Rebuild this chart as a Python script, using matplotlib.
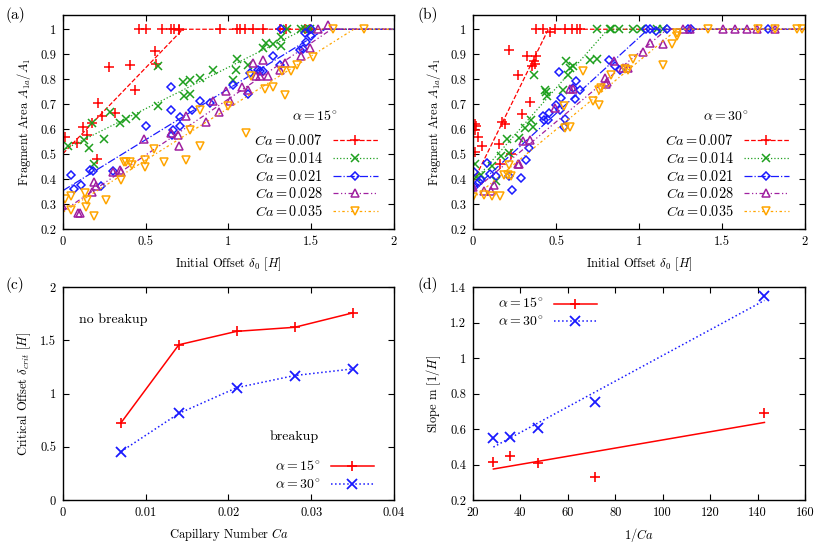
import matplotlib
matplotlib.use("Agg")
import matplotlib.pyplot as plt
from matplotlib.lines import Line2D
from matplotlib.ticker import FormatStrFormatter
import numpy as np

plt.rcParams["font.family"] = ["cmr10", "DejaVu Serif"]
plt.rcParams["mathtext.fontset"] = "cm"
plt.rcParams["axes.formatter.use_mathtext"] = True
plt.rcParams["font.size"] = 9

# capillary numbers and fit results
ca_values = [0.007, 0.014, 0.021, 0.028, 0.035]
inv_ca = [142.9, 71.4, 47.6, 35.7, 28.6]
# critical offsets (panel c)
crit_15 = [0.724, 1.458, 1.584, 1.622, 1.757]
crit_30 = [0.454, 0.813, 1.055, 1.169, 1.231]
# slopes (panel d), ordered like ca_values
slope_15 = [0.688, 0.332, 0.408, 0.449, 0.417]
slope_30 = [1.349, 0.754, 0.608, 0.555, 0.550]

# panel (a): alpha = 15 deg, fragment area vs initial offset
a15_x = {
    0.007: [0.014, 0.085, 0.121, 0.145, 0.177, 0.205, 0.209, 0.236, 0.278, 0.314, 0.407, 0.435,
            0.556, 0.564, 0.701, 0.46, 0.50, 0.60, 0.65, 0.67, 0.70, 0.95, 1.05, 1.07, 1.10,
            1.15, 1.21, 1.31, 1.35, 1.46, 1.49],
    0.014: [0.030, 0.125, 0.157, 0.177, 0.187, 0.246, 0.282, 0.346, 0.379, 0.439, 0.576, 0.574,
            0.725, 0.731, 0.765, 0.765, 0.826, 0.906, 1.027, 1.051, 1.047, 1.118, 1.208, 1.229,
            1.269, 1.319, 1.319, 1.353, 1.44, 1.46, 1.49],
    0.021: [0.046, 0.064, 0.107, 0.165, 0.181, 0.228, 0.302, 0.504, 0.655, 0.655, 0.659, 0.665,
            0.705, 0.705, 0.781, 0.826, 0.886, 1.027, 1.118, 1.128, 1.178, 1.188, 1.208, 1.269,
            1.309, 1.43, 1.45, 1.47, 1.50, 1.46, 1.32, 1.50],
    0.028: [-0.006, 0.09, 0.10, 0.185, 0.201, 0.177, 0.302, 0.342, 0.352, 0.487, 0.65, 0.695,
            0.70, 0.745, 0.866, 0.906, 0.94, 0.987, 1.007, 1.084, 1.118, 1.148, 1.168, 1.188,
            1.208, 1.239, 1.309, 1.339, 1.44, 1.49, 1.54, 1.60],
    0.035: [0.01, 0.05, 0.05, 0.131, 0.145, 0.137, 0.185, 0.262, 0.348, 0.368, 0.383, 0.403,
            0.417, 0.493, 0.497, 0.548, 0.608, 0.745, 0.765, 0.826, 0.826, 0.997, 1.104, 1.138,
            1.219, 1.269, 1.325, 1.339, 1.38, 1.416, 1.51, 1.63, 1.82],
}
a15_y = {
    0.007: [0.568, 0.544, 0.607, 0.577, 0.624, 0.48, 0.703, 0.652, 0.847, 0.665, 0.856, 0.757,
            0.911, 0.86, 0.995, 1, 1, 1, 1, 1, 1, 1, 1, 1, 1, 1, 1, 1, 1, 1, 1],
    0.014: [0.533, 0.557, 0.524, 0.624, 0.46, 0.56, 0.669, 0.624, 0.641, 0.651, 0.693, 0.851,
            0.787, 0.733, 0.795, 0.741, 0.803, 0.837, 0.795, 0.88, 0.837, 0.857, 0.924, 0.944,
            0.94, 0.968, 0.931, 1.0, 1.0, 1.0, 1.0],
    0.021: [0.415, 0.361, 0.377, 0.435, 0.431, 0.371, 0.433, 0.613, 0.767, 0.677, 0.577, 0.597,
            0.648, 0.613, 0.677, 0.713, 0.704, 0.777, 0.741, 0.824, 0.837, 0.831, 0.831, 0.891,
            0.857, 0.917, 0.92, 0.947, 0.973, 0.984, 1.0, 1.0],
    0.028: [0.297, 0.264, 0.264, 0.387, 0.371, 0.347, 0.427, 0.437, 0.427, 0.56, 0.584, 0.577,
            0.533, 0.651, 0.627, 0.711, 0.667, 0.751, 0.713, 0.768, 0.757, 0.864, 0.811, 0.811,
            0.877, 0.811, 0.837, 0.864, 0.891, 0.924, 1.0, 1.017],
    0.035: [0.321, 0.331, 0.277, 0.344, 0.317, 0.288, 0.251, 0.317, 0.397, 0.468, 0.468, 0.468,
            0.455, 0.477, 0.447, 0.521, 0.468, 0.475, 0.597, 0.533, 0.677, 0.693, 0.584, 0.813,
            0.76, 0.767, 0.831, 0.737, 0.831, 0.857, 0.888, 1.0, 1.0],
}

# panel (b): alpha = 30 deg
a30_x = {
    0.007: [0.01, 0.02, 0.014, 0.01, 0.03, 0.054, 0.157, 0.161, 0.173, 0.193, 0.217, 0.231,
            0.271, 0.295, 0.328, 0.346, 0.356, 0.368, 0.372, 0.382, 0.378, 0.422, 0.462, 0.492,
            0.553, 0.599, 0.629, 0.647],
    0.014: [0.01, 0.02, 0.05, 0.115, 0.137, 0.167, 0.205, 0.215, 0.275, 0.312, 0.352, 0.362,
            0.366, 0.432, 0.442, 0.448, 0.543, 0.559, 0.573, 0.587, 0.603, 0.704, 0.75, 0.744,
            0.824, 0.834, 0.88, 0.961, 1.011, 1.106, 1.146],
    0.021: [0.004, 0.004, 0.036, 0.05, 0.084, 0.105, 0.137, 0.235, 0.215, 0.291, 0.322, 0.336,
            0.422, 0.428, 0.452, 0.458, 0.497, 0.523, 0.529, 0.519, 0.549, 0.553, 0.603, 0.617,
            0.623, 0.643, 0.82, 0.854, 0.884, 1.045, 1.065, 1.101, 1.166, 1.296, 1.313, 1.779],
    0.028: [0.0, 0.064, 0.11, 0.125, 0.271, 0.275, 0.302, 0.346, 0.492, 0.587, 0.603, 0.794,
            0.804, 0.81, 0.848, 0.905, 0.935, 1.025, 1.069, 1.146, 1.266, 1.307, 1.508, 1.578,
            1.648, 1.713, 1.819],
    0.035: [0.0, 0.064, 0.117, 0.165, 0.185, 0.211, 0.227, 0.215, 0.547, 0.557, 0.587, 0.663,
            0.72, 0.758, 0.758, 0.774, 0.834, 0.915, 0.935, 0.965, 1.146, 1.196, 1.226, 1.226,
            1.417, 1.719, 1.819, 1.95, 1.98],
}
a30_y = {
    0.007: [0.621, 0.613, 0.597, 0.508, 0.567, 0.531, 0.541, 0.46, 0.627, 0.62, 0.915, 0.5,
            0.817, 0.661, 0.891, 0.708, 0.851, 0.871, 0.86, 0.893, 1.0, 1.0, 0.987, 1.0,
            1.0, 1.0, 1.0, 1.0],
    0.014: [0.46, 0.41, 0.415, 0.451, 0.391, 0.491, 0.56, 0.504, 0.564, 0.604, 0.637, 0.607,
            0.817, 0.755, 0.747, 0.733, 0.755, 0.871, 0.817, 0.844, 0.851, 0.877, 0.881, 1.0,
            1.0, 1.0, 1.0, 1.0, 1.0, 1.0, 1.0],
    0.021: [0.427, 0.368, 0.387, 0.397, 0.464, 0.421, 0.413, 0.357, 0.413, 0.404, 0.477, 0.524,
            0.653, 0.637, 0.637, 0.664, 0.697, 0.677, 0.724, 0.827, 0.607, 0.64, 0.764, 0.72,
            0.793, 0.755, 0.875, 0.851, 0.835, 1.0, 1.0, 0.991, 1.0, 1.0, 1.0, 1.0],
    0.028: [0.368, 0.351, 0.351, 0.377, 0.461, 0.461, 0.553, 0.555, 0.684, 0.761, 0.76, 0.804,
            0.78, 0.79, 0.873, 0.844, 0.844, 0.907, 0.944, 0.94, 1.0, 1.0, 1.0, 1.0,
            1.0, 1.0, 1.0],
    0.035: [0.328, 0.337, 0.333, 0.331, 0.417, 0.417, 0.411, 0.457, 0.691, 0.604, 0.607, 0.831,
            0.711, 0.697, 0.757, 0.764, 0.817, 0.84, 0.835, 0.88, 0.857, 0.94, 0.973, 0.984,
            1.0, 1.0, 1.0, 1.0, 1.0],
}

colors = ["#ff0000", "#1ea01e", "#1a1aff", "#a020a0", "#ffa500"]
markers = ["+", "x", "D", "^", "v"]
msizes = [6.5, 5.5, 4.2, 5.6, 5.6]
dashes = ["--", ":", "-.", (0, (4, 2, 1, 2, 1, 2)), (0, (2, 2, 1, 2))]

fig = plt.figure(figsize=(8.31, 5.46), dpi=100)
ax_a = fig.add_axes([0.0758, 0.5806, 0.3983, 0.3919])
ax_b = fig.add_axes([0.5692, 0.5806, 0.3995, 0.3919])
ax_c = fig.add_axes([0.0758, 0.0842, 0.3983, 0.3901])
ax_d = fig.add_axes([0.5692, 0.0842, 0.3995, 0.3901])


def style(ax):
    ax.tick_params(direction="in", top=True, right=True, length=4, width=0.8, pad=5)
    for sp in ax.spines.values():
        sp.set_linewidth(1.0)
    ax.xaxis.set_major_formatter(FormatStrFormatter("%g"))
    ax.yaxis.set_major_formatter(FormatStrFormatter("%g"))


def mk_handle(i):
    filled = markers[i] in ("+", "x")
    return Line2D([], [], color=colors[i], linestyle=dashes[i], linewidth=0.9,
                  marker=markers[i], markersize=msizes[i], markeredgewidth=1.1,
                  markerfacecolor=colors[i] if filled else "none")


def offset_panel(ax, xs, ys, slopes, crits, angle):
    for i, ca in enumerate(ca_values):
        filled = markers[i] in ("+", "x")
        ax.plot(xs[ca], ys[ca], linestyle="none", marker=markers[i], color=colors[i],
                markersize=msizes[i], markeredgewidth=1.1,
                markerfacecolor=colors[i] if filled else "none")
        b = 1 - slopes[i] * crits[i]
        ax.plot([0, crits[i], 2], [b, 1, 1], color=colors[i], linestyle=dashes[i], linewidth=0.9)
    ax.set_xlim(0, 2)
    ax.set_ylim(0.2, 1.057)
    ax.set_xticks([0, 0.5, 1, 1.5, 2])
    ax.set_yticks(np.arange(0.2, 1.01, 0.1))
    ax.set_xlabel(r"Initial Offset $\delta_0$ $[H]$", labelpad=5)
    ax.set_ylabel(r"Fragment Area $A_{1a}/A_1$", labelpad=5)
    style(ax)
    ax.text(0.76, 0.523, r"$\alpha = %d^{\circ}$" % angle, transform=ax.transAxes,
            ha="center", va="center", fontsize=10)
    handles = [mk_handle(i) for i in range(5)]
    labels = [r"$Ca = %.3f$" % c for c in ca_values]
    ax.legend(handles, labels, loc="lower right", bbox_to_anchor=(0.972, 0.012),
              frameon=False, markerfirst=False, numpoints=1, handlelength=3.1,
              handletextpad=0.75, labelspacing=0.2, borderpad=0, fontsize=10.3)


offset_panel(ax_a, a15_x, a15_y, slope_15, crit_15, 15)
offset_panel(ax_b, a30_x, a30_y, slope_30, crit_30, 30)

# panel (c)
ax_c.plot(ca_values, crit_15, color="#ff0000", linestyle="-", linewidth=1.1, marker="+",
          markersize=7, markeredgewidth=1.2, label=r"$\alpha = 15^{\circ}$")
ax_c.plot(ca_values, crit_30, color="#1a1aff", linestyle=":", linewidth=1.1, marker="x",
          markersize=6.5, markeredgewidth=1.3, label=r"$\alpha = 30^{\circ}$")
ax_c.set_xlim(0, 0.04)
ax_c.set_ylim(0, 2)
ax_c.set_xticks([0, 0.01, 0.02, 0.03, 0.04])
ax_c.set_yticks([0, 0.5, 1, 1.5, 2])
ax_c.set_xlabel(r"Capillary Number $Ca$", labelpad=5)
ax_c.set_ylabel(r"Critical Offset $\delta_{crit}$ $[H]$", labelpad=5)
style(ax_c)
ax_c.text(0.048, 0.845, "no breakup", transform=ax_c.transAxes, ha="left", va="center",
          fontsize=10)
ax_c.text(0.625, 0.296, "breakup", transform=ax_c.transAxes, ha="left", va="center",
          fontsize=10)
ax_c.legend(loc="lower right", bbox_to_anchor=(0.96, 0.005), frameon=False,
            markerfirst=False, numpoints=1, handlelength=3.1, handletextpad=0.75,
            labelspacing=0.25, borderpad=0, fontsize=10)

# panel (d)
inv = np.array(inv_ca)
s15 = np.array(slope_15)
s30 = np.array(slope_30)
p15 = np.polyfit(inv, s15, 1)
p30 = np.polyfit(inv, s30, 1)
xr = np.array([inv.min(), inv.max()])
ax_d.plot(xr, np.polyval(p15, xr), color="#ff0000", linestyle="-", linewidth=1.1)
ax_d.plot(xr, np.polyval(p30, xr), color="#1a1aff", linestyle=":", linewidth=1.1)
ax_d.plot(inv, s15, linestyle="none", color="#ff0000", marker="+", markersize=7,
          markeredgewidth=1.2)
ax_d.plot(inv, s30, linestyle="none", color="#1a1aff", marker="x", markersize=6.5,
          markeredgewidth=1.3)
ax_d.set_xlim(20, 160)
ax_d.set_ylim(0.2, 1.4)
ax_d.set_xticks(np.arange(20, 161, 20))
ax_d.set_yticks(np.arange(0.2, 1.41, 0.2))
ax_d.set_xlabel(r"$1/Ca$", labelpad=5)
ax_d.set_ylabel(r"Slope m $[1/H]$", labelpad=5)
style(ax_d)
h15 = Line2D([], [], color="#ff0000", linestyle="-", linewidth=1.1, marker="+",
             markersize=7, markeredgewidth=1.2)
h30 = Line2D([], [], color="#1a1aff", linestyle=":", linewidth=1.1, marker="x",
             markersize=6.5, markeredgewidth=1.3)
ax_d.legend([h15, h30], [r"$\alpha = 15^{\circ}$", r"$\alpha = 30^{\circ}$"],
            loc="upper left", bbox_to_anchor=(0.055, 0.985), frameon=False,
            markerfirst=False, numpoints=1, handlelength=3.1, handletextpad=0.75,
            labelspacing=0.25, borderpad=0, fontsize=10)

for lbl, (x, y) in zip(["(a)", "(b)", "(c)", "(d)"],
                       [(0.007, 0.972), (0.502, 0.972), (0.007, 0.478), (0.502, 0.478)]):
    fig.text(x, y, lbl, fontsize=11, ha="left", va="center")

fig.savefig("out.png", dpi=100)
